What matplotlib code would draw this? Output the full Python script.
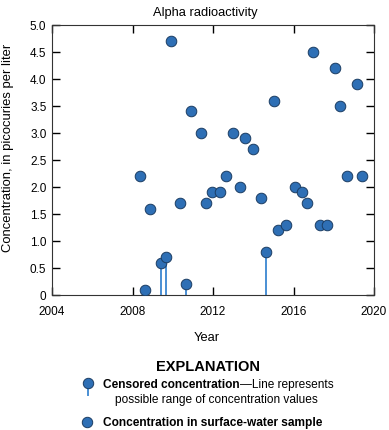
import matplotlib
matplotlib.use("Agg")
import matplotlib.pyplot as plt
from matplotlib.lines import Line2D

plt.rcParams['font.family'] = ['Liberation Sans', 'DejaVu Sans']

# detected samples (year, pCi/L)
years = [2008.39, 2008.64, 2008.89, 2009.91, 2010.36, 2010.92, 2011.42, 2011.65,
         2011.93, 2012.35, 2012.66, 2012.99, 2013.36, 2013.59, 2013.99, 2014.39,
         2015.03, 2015.25, 2015.61, 2016.07, 2016.41, 2016.67, 2016.95, 2017.32,
         2017.66, 2018.08, 2018.29, 2018.64, 2019.16, 2019.40]
conc = [2.2, 0.1, 1.6, 4.7, 1.7, 3.4, 3.0, 1.7,
        1.9, 1.9, 2.2, 3.0, 2.0, 2.9, 2.7, 1.8,
        3.6, 1.2, 1.3, 2.0, 1.9, 1.7, 4.5, 1.3,
        1.3, 4.2, 3.5, 2.2, 3.9, 2.2]

# censored samples
cens_years = [2009.40, 2009.65, 2010.66, 2014.65]
cens_conc = [0.6, 0.7, 0.2, 0.8]

x_ticks = [2004, 2008, 2012, 2016, 2020]
y_ticks = [0, 0.5, 1.0, 1.5, 2.0, 2.5, 3.0, 3.5, 4.0, 4.5, 5.0]
y_labels = ['0', '0.5', '1.0', '1.5', '2.0', '2.5', '3.0', '3.5', '4.0', '4.5', '5.0']

fill = '#2e6fb5'
edge = '#1b3d63'
line_c = '#4a8fd4'

fig = plt.figure(figsize=(3.89, 4.31), dpi=100)
ax = fig.add_axes([52/389, 1-296/431, 322/389, 270/431])

ax.vlines(cens_years, 0, cens_conc, color=line_c, lw=1.4, zorder=2)
ax.scatter(cens_years, cens_conc, s=58, c=fill, edgecolors=edge, linewidths=0.7, zorder=3)
ax.scatter(years, conc, s=58, c=fill, edgecolors=edge, linewidths=0.7, zorder=3)

ax.set_xlim(2004, 2020)
ax.set_ylim(0, 5)
ax.set_xticks(x_ticks)
ax.set_yticks(y_ticks)
ax.set_yticklabels(y_labels)
ax.tick_params(direction='in', top=True, right=True, length=6, width=1, labelsize=8.5)
ax.tick_params(axis='x', pad=7)
ax.tick_params(axis='y', pad=4)
for s in ax.spines.values():
    s.set_linewidth(0.8)
    s.set_color('#333333')

ax.set_title('Alpha radioactivity', fontsize=9.3, x=0.475, pad=7)
ax.set_xlabel('Year', fontsize=9.3)
ax.xaxis.set_label_coords(0.48, -0.133)
ax.set_ylabel('Concentration, in picocuries per liter', fontsize=9.4, va='center')
ax.yaxis.set_label_coords(-0.137, 0.55)

# explanation
fig.text(208/389, 1-367/431, 'EXPLANATION', ha='center', va='center', fontsize=10.5, fontweight='bold')

fig.add_artist(Line2D([88/389, 88/389], [1-384/431, 1-396/431], color=line_c, lw=1.4))
fig.add_artist(Line2D([88/389], [1-384/431], marker='o', ms=7.5, mfc=fill, mec=edge, mew=0.7))
t1 = fig.text(103/389, 1-385/431, 'Censored concentration', ha='left', va='center',
              fontsize=8.6, fontweight='bold')
ax.annotate('\u2014Line represents', xy=(1, 0), xycoords=t1, ha='left', va='bottom',
            fontsize=8.6, annotation_clip=False)
fig.text(115/389, 1-400/431, 'possible range of concentration values', ha='left', va='center',
         fontsize=8.6)

fig.add_artist(Line2D([87/389], [1-423/431], marker='o', ms=7.5, mfc=fill, mec=edge, mew=0.7))
fig.text(103/389, 1-423/431, 'Concentration in surface-water sample', ha='left', va='center',
         fontsize=8.6, fontweight='bold')

fig.savefig('out.png', dpi=100)
